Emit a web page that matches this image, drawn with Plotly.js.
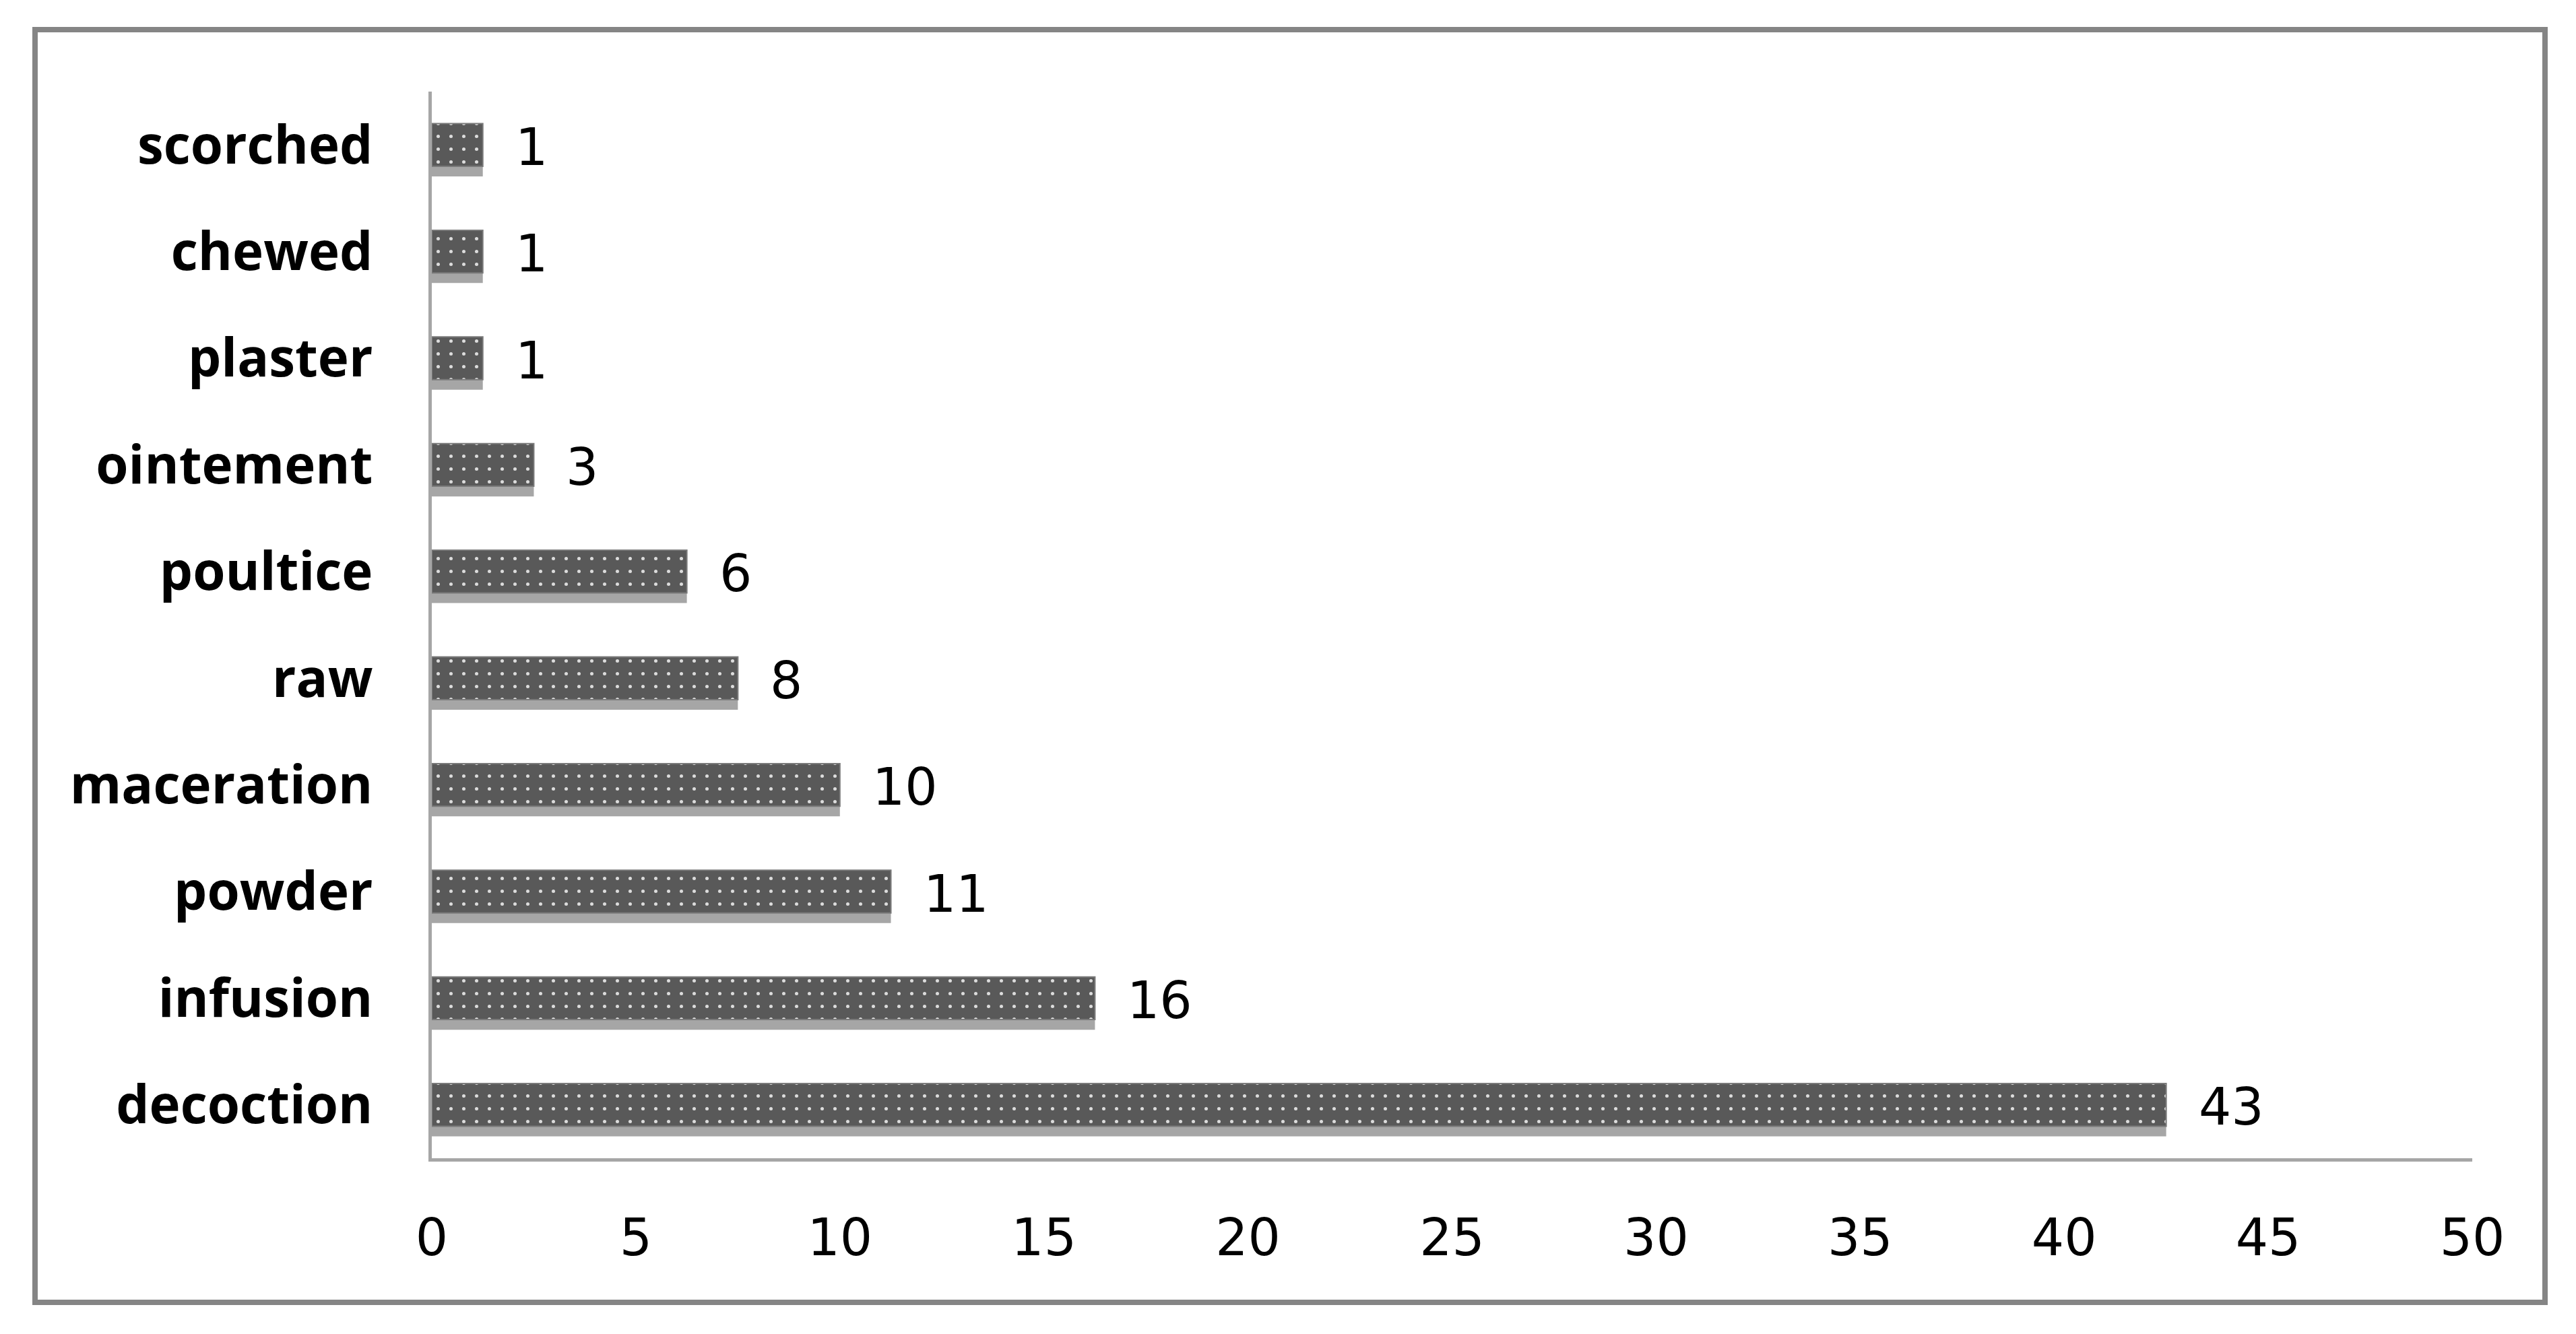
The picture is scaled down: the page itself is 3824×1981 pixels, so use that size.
<!DOCTYPE html>
<html>
<head>
<meta charset="utf-8">
<script src="https://cdn.plot.ly/plotly-3.0.1.min.js"></script>
<style>
  html, body { margin: 0; padding: 0; background: #ffffff; }
  #chart { width: 3824px; height: 1981px; }
</style>
</head>
<body>
<div id="chart"></div>
<script>
// Preparation methods (bottom to top as drawn)
const categories = ["decoction", "infusion", "powder", "maceration", "raw",
                    "poultice", "ointement", "plaster", "chewed", "scorched"];
// Percent of citations (bar lengths)
const values = [42.5, 16.25, 11.25, 10, 7.5, 6.25, 2.5, 1.25, 1.25, 1.25];
// Data labels as printed
const labels = ["43", "16", "11", "10", "8", "6", "3", "1", "1", "1"];
// X axis ticks
const xTicks = [0, 5, 10, 15, 20, 25, 30, 35, 40, 45, 50];

const barWidth = 0.4;

const shadow = {
  type: 'bar', orientation: 'h',
  y: categories, x: values,
  width: barWidth, offset: -barWidth / 2 - 0.095,
  marker: { color: '#a6a6a6', line: { width: 0 } },
  hoverinfo: 'skip', showlegend: false
};

const bars = {
  type: 'bar', orientation: 'h',
  y: categories, x: values,
  width: barWidth, offset: -barWidth / 2,
  marker: {
    color: '#595959',
    line: { color: '#7a7a7a', width: 2 },
    pattern: { shape: '.', fgcolor: '#dcdcdc', bgcolor: '#595959', size: 19, solidity: 0.055 }
  },
  showlegend: false
};

const annotations = categories.map((c, i) => ({
  x: values[i], y: c, xref: 'x', yref: 'y',
  text: labels[i], showarrow: false,
  xanchor: 'left', yanchor: 'middle', xshift: 46, yshift: -3,
  font: { family: 'DejaVu Sans', size: 76, color: '#000000' }
}));

const W = 3824, H = 1981;
const L = 641, R = 154, T = 136, B = 261;
const pw = W - L - R, ph = H - T - B;
const px = v => (v - L) / pw;
const py = v => (H - B - v) / ph;

const layout = {
  width: W, height: H,
  margin: { l: L, r: R, t: T, b: B, pad: 0 },
  paper_bgcolor: '#ffffff', plot_bgcolor: '#ffffff',
  barmode: 'overlay',
  showlegend: false,
  xaxis: {
    range: [0, 50], tickvals: xTicks, ticktext: xTicks.map(String),
    showgrid: false, zeroline: false,
    showline: true, linecolor: '#a6a6a6', linewidth: 5,
    ticks: '', ticklabelstandoff: 48,
    tickfont: { family: 'DejaVu Sans', size: 76, color: '#000000' },
    fixedrange: true
  },
  yaxis: {
    type: 'category', range: [-0.5, 9.5],
    showgrid: false, zeroline: false,
    showline: true, linecolor: '#a6a6a6', linewidth: 5,
    ticks: '', ticklabelstandoff: 67,
    tickfont: { family: 'Open Sans', size: 78, color: '#000000', weight: 'bold' },
    fixedrange: true
  },
  annotations: annotations,
  shapes: [{
    type: 'rect', xref: 'paper', yref: 'paper',
    x0: px(52), x1: px(3778), y0: py(1934), y1: py(44),
    line: { color: '#858585', width: 8 }, fillcolor: 'rgba(0,0,0,0)', layer: 'below'
  }]
};

Plotly.newPlot('chart', [shadow, bars], layout, { displayModeBar: false, staticPlot: true });
</script>
</body>
</html>
